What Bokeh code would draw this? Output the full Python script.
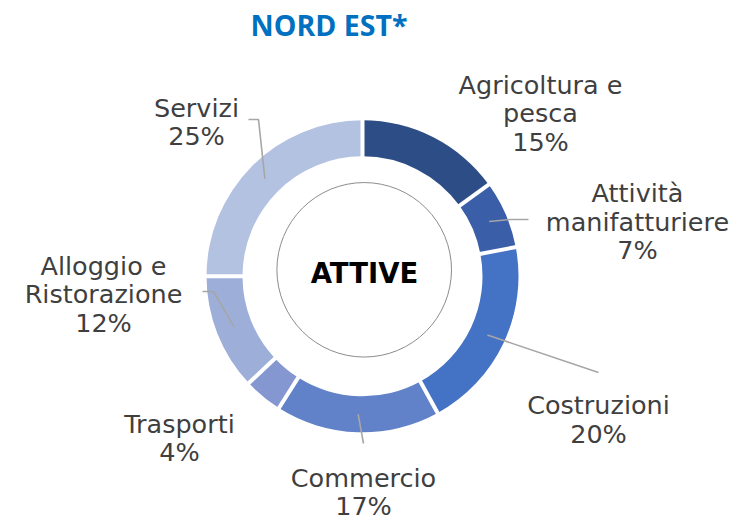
import math
from bokeh.plotting import figure
from bokeh.models import Range1d
from bokeh.core.properties import value
from bokeh.embed import file_html
from bokeh.resources import INLINE

# ---------------- data ----------------
title_text = "NORD EST*"
center_text = "ATTIVE"
categories = ["Agricoltura e\npesca", "Attività\nmanifatturiere", "Costruzioni",
              "Commercio", "Trasporti", "Alloggio e\nRistorazione", "Servizi"]
values = [15, 7, 20, 17, 4, 12, 25]
colors = ["#2C4D86", "#3A5EA8", "#4472C4", "#6182C8", "#8497D1", "#9DAED9", "#B4C2E1"]

# ---------------- layout (picture pixels) ----------------
W, H = 734, 515


def px(x):
    return x


def py(y):
    return H - y


CX, CY = px(362), py(275.8)
R_OUT, R_IN, R_MID = 156, 120, 138
# centre of first text line of each label
label_anchor = [(540, 84), (637, 192.5), (598, 404.5), (363, 477), (179, 423), (103, 265), (196, 107)]
LINE_H = 28.7
leader_tail = [None, [(510, 219), (528, 219)], [(598, 372)], [(363, 443)], None,
               [(213, 291), (202, 291)], [(258, 119), (248, 119)]]

p = figure(width=W, height=H, output_backend="svg", toolbar_location=None,
           x_range=Range1d(0, W), y_range=Range1d(0, H), min_border=0)
p.axis.visible = False
p.grid.visible = False
p.outline_line_color = None
p.background_fill_color = "white"

total = float(sum(values))
cum = [0.0]
for v in values:
    cum.append(cum[-1] + v)


def ang(f):
    return math.pi / 2 - 2 * math.pi * f / total


starts = [ang(cum[i]) for i in range(len(values))]
ends = [ang(cum[i + 1]) for i in range(len(values))]

p.annular_wedge(x=CX, y=CY, inner_radius=R_IN, outer_radius=R_OUT,
                start_angle=starts, end_angle=ends, direction="clock",
                fill_color=colors, line_color=None)

# white gaps between slices
gx0 = [CX + (R_IN - 2) * math.cos(a) for a in starts]
gy0 = [CY + (R_IN - 2) * math.sin(a) for a in starts]
gx1 = [CX + (R_OUT + 2) * math.cos(a) for a in starts]
gy1 = [CY + (R_OUT + 2) * math.sin(a) for a in starts]
p.segment(x0=gx0, y0=gy0, x1=gx1, y1=gy1, line_color="white", line_width=4)

# inner thin circle
p.circle(x=px(363.7), y=py(269.3), radius=87.3, fill_color=None,
         line_color="#8C8C8C", line_width=1)

# leader lines
lxs, lys = [], []
for i, tail in enumerate(leader_tail):
    if tail is None:
        continue
    a = (starts[i] + ends[i]) / 2
    xs = [CX + R_MID * math.cos(a)] + [px(t[0]) for t in tail]
    ys = [CY + R_MID * math.sin(a)] + [py(t[1]) for t in tail]
    lxs.append(xs)
    lys.append(ys)
p.multi_line(xs=lxs, ys=lys, line_color="#A6A6A6", line_width=1.6)

# labels
tx, ty, tt = [], [], []
for i, cat in enumerate(categories):
    lines = cat.split("\n") + [f"{values[i]}%"]
    ax, ay = label_anchor[i]
    for k, ln in enumerate(lines):
        tx.append(px(ax))
        ty.append(py(ay + k * LINE_H))
        tt.append(ln)
p.text(x=tx, y=ty, text=tt, text_align="center", text_baseline="middle",
       text_font=value("DejaVu Sans"), text_font_size="25.5px", text_color="#3F3F3F")

p.text(x=[px(364)], y=[py(272)], text=[center_text], text_align="center",
       text_baseline="middle", text_font=value("DejaVu Sans"), text_font_style="bold",
       text_font_size="27.5px", text_color="#000000")

p.text(x=[px(328.5)], y=[py(24.5)], text=[title_text], text_align="center",
       text_baseline="middle", text_font=value("Open Sans"), text_font_style="bold",
       text_font_size="28.5px", text_color="#0070C0")

open("out.html", "w").write(file_html(p, INLINE))
